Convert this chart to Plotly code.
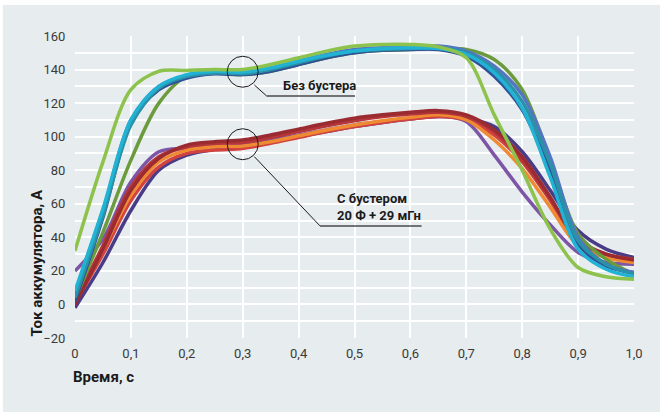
import plotly.graph_objects as go

# Time axis (s)
t = [0, 0.05, 0.1, 0.15, 0.2, 0.25, 0.3, 0.35, 0.4, 0.45, 0.5,
     0.55, 0.6, 0.65, 0.7, 0.75, 0.8, 0.85, 0.9, 0.95, 1.0]

# Without booster (upper group)
light_green = [32, 85, 128, 139, 139.5, 140, 140, 143, 147, 151, 154, 155, 155, 153.5, 147, 113, 80, 45, 22, 16.5, 15]
dark_green = [3, 43, 86, 120, 136, 138, 137, 139, 143, 147, 150, 151.5, 152, 152.5, 152, 146, 128, 86, 42, 27, 18]
navy = [2, 52, 108, 128, 135, 137.5, 137, 139, 143, 147, 150, 151.5, 152, 152, 148, 136, 116, 80, 36, 23, 19]
mid_blue = [5, 55, 110, 130, 136, 138, 138, 141, 145, 149, 152, 153, 153.5, 154, 151, 142, 125, 88, 40, 24, 19]
teal = [4, 53, 107, 129, 136, 138, 137.5, 140, 144, 148, 151, 152, 152.5, 153, 150, 140, 121, 84, 38, 24, 18]
cyan = [8, 57, 110, 130, 137, 139, 138.5, 141, 145, 148.5, 151, 152.5, 153, 152.5, 149, 138, 117, 76, 33, 21, 16.5]

# With booster 20 F + 29 mH (lower group)
purple = [20, 39, 73, 91, 93, 94, 95, 98, 101, 104, 107, 109, 111, 112.5, 109, 89, 67, 47.5, 31, 25, 24]
indigo = [-2, 25, 56, 80, 89, 92.5, 94, 97, 100, 103, 106, 108.5, 110.5, 112, 111, 106, 91, 68, 44, 33, 28]
dark_red = [0, 33, 68, 87, 95, 97, 98, 101, 104.5, 108, 111, 113, 114.5, 115.5, 113, 104, 88, 64, 38, 30, 26.5]
red = [1, 30, 62, 82, 90, 92, 93, 96, 99.5, 103, 106, 108.5, 110.5, 112, 110, 101, 85, 62, 37, 29, 26]
orange = [4, 33, 65, 85, 92, 94, 94.5, 97, 100.5, 104, 107, 109.5, 111.5, 113, 110, 98, 81, 58, 35, 28, 25]
red2 = [2, 35, 70, 88, 94, 96, 96.5, 99.5, 103, 106.5, 109.5, 112, 113.5, 114.5, 112, 103, 86, 63, 39, 30, 27]

x_ticks = [0, 0.1, 0.2, 0.3, 0.4, 0.5, 0.6, 0.7, 0.8, 0.9, 1.0]
x_labels = ["0", "0,1", "0,2", "0,3", "0,4", "0,5", "0,6", "0,7", "0,8", "0,9", "1,0"]
y_ticks = [-20, 0, 20, 40, 60, 80, 100, 120, 140, 160]
y_labels = ["\u221220", "0", "20", "40", "60", "80", "100", "120", "140", "160"]

lower = [(purple, "#7d55a6"), (indigo, "#4a3b87"), (red, "#d2423f"),
         (orange, "#ef8a33"), (red2, "#b5363a"), (dark_red, "#9a2c31")]
upper = [(dark_green, "#6b9b3c"), (navy, "#2f4f96"), (mid_blue, "#5476c0"),
         (teal, "#2a92a8"), (cyan, "#22b3d4"), (light_green, "#8dc24c")]

fig = go.Figure()
for ys, col in lower + upper:
    fig.add_trace(go.Scatter(x=t, y=ys, mode="lines",
                             line=dict(color=col, width=3.5, shape="spline", smoothing=0.9),
                             hoverinfo="skip", showlegend=False))

FONT = "Roboto, Liberation Sans, sans-serif"

fig.update_layout(
    width=660, height=412,
    margin=dict(l=75, r=26, t=36, b=74),
    paper_bgcolor="white",
    plot_bgcolor="#cad4db",
    xaxis=dict(range=[0, 1], tickvals=x_ticks, ticktext=x_labels, showgrid=True,
               gridcolor="white", gridwidth=1.5, zeroline=False, showline=False,
               ticks="outside", ticklen=3, tickcolor="rgba(0,0,0,0)",
               tickfont=dict(family=FONT, size=13, color="#3a3a3a")),
    yaxis=dict(range=[-20, 160], tickvals=y_ticks, ticktext=y_labels, showgrid=True,
               gridcolor="white", gridwidth=1.5, zeroline=False, showline=False,
               ticks="outside", ticklen=6, tickcolor="rgba(0,0,0,0)",
               minor=dict(tickvals=[-10, 10, 30, 50, 70, 90, 110, 130, 150],
                          showgrid=True, gridcolor="white", gridwidth=1.5),
               tickfont=dict(family=FONT, size=13, color="#3a3a3a")),
    shapes=[
        dict(type="rect", xref="paper", yref="paper", x0=-0.129, x1=1.05, y0=-0.25, y1=1.1026,
             fillcolor="#e7ecef", line=dict(width=0), layer="below"),
        dict(type="circle", xref="x", yref="y", xsizemode="pixel", ysizemode="pixel",
             xanchor=0.3, yanchor=138.7, x0=-15.5, x1=15.5, y0=-15.5, y1=15.5,
             line=dict(color="#1a1a1a", width=1)),
        dict(type="circle", xref="x", yref="y", xsizemode="pixel", ysizemode="pixel",
             xanchor=0.3, yanchor=95.5, x0=-15.5, x1=15.5, y0=-15.5, y1=15.5,
             line=dict(color="#1a1a1a", width=1)),
        dict(type="path", xref="x", yref="y", path="M 0.3208 130.8 L 0.343 124.2",
             line=dict(color="#1a1a1a", width=1)),
        dict(type="line", xref="x", yref="y", x0=0.343, x1=0.501, y0=124.2, y1=124.2,
             line=dict(color="#4a4a4a", width=1.5)),
        dict(type="path", xref="x", yref="y", path="M 0.3208 88.1 L 0.4383 46.8",
             line=dict(color="#1a1a1a", width=1)),
        dict(type="line", xref="x", yref="y", x0=0.4383, x1=0.620, y0=46.8, y1=46.8,
             line=dict(color="#4a4a4a", width=1.5)),
    ],
    annotations=[
        dict(text="<b>Без бустера</b>", x=0.3685, y=124.2, xref="x", yref="y",
             xanchor="left", yanchor="bottom", yshift=1, align="left", showarrow=False,
             font=dict(family=FONT, size=13, color="#1a1a1a")),
        dict(text="<b>С бустером<br>20 Ф + 29 мГн</b>", x=0.465, y=46.8, xref="x", yref="y",
             xanchor="left", yanchor="bottom", yshift=1, align="left", showarrow=False,
             font=dict(family=FONT, size=13, color="#1a1a1a")),
        dict(text="<b>Ток аккумулятора, А</b>", x=-0.068, y=-20, xref="paper", yref="y",
             xanchor="center", yanchor="bottom", textangle=-90, align="left", showarrow=False,
             font=dict(family=FONT, size=15, color="#1a1a1a")),
        dict(text="<b>Время, с</b>", x=0, y=-0.13, xref="paper", yref="paper",
             xanchor="left", yanchor="middle", align="left", showarrow=False, xshift=-4,
             font=dict(family=FONT, size=15, color="#1a1a1a")),
    ],
)

post = "document.body.style.margin = '0';"

fig.write_html("out.html", post_script=post, config={"displayModeBar": False})
